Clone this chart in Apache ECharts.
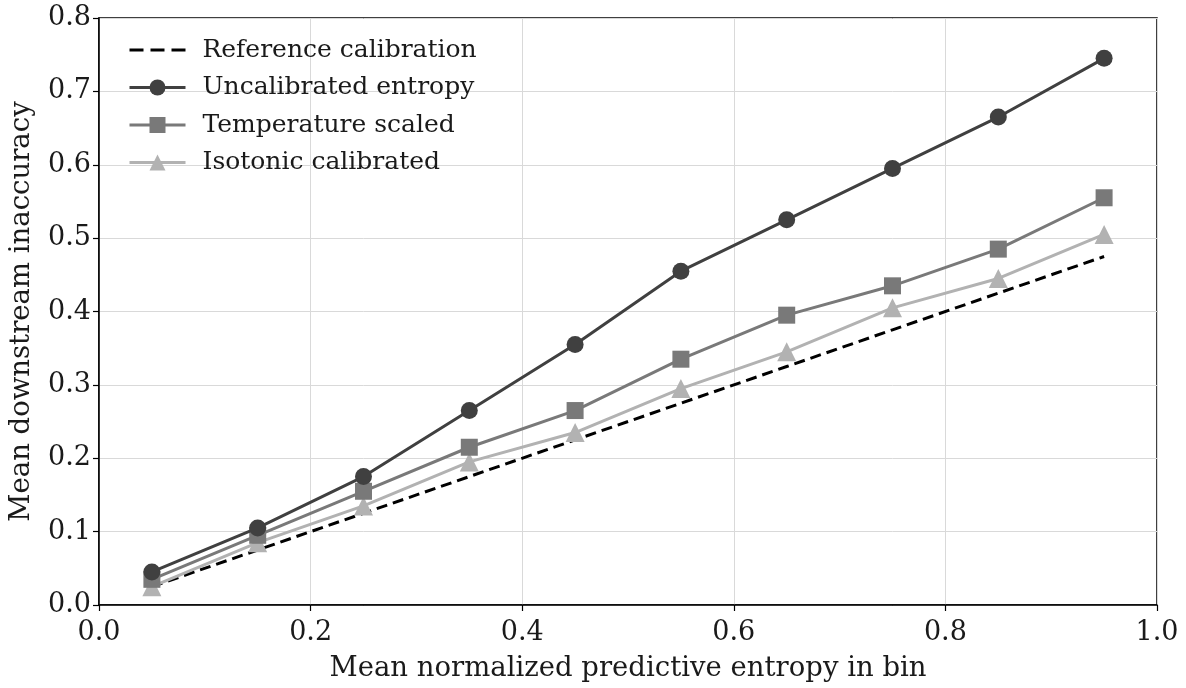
<!DOCTYPE html>
<html>
<head>
<meta charset="utf-8">
<script src="https://cdn.jsdelivr.net/npm/echarts@6/dist/echarts.min.js"></script>
<style>
html, body { margin: 0; padding: 0; background: #fff; }
#main { width: 1186px; height: 688px; }
</style>
</head>
<body>
<div id="main"></div>
<script>
var binCenters = [0.05, 0.15, 0.25, 0.35, 0.45, 0.55, 0.65, 0.75, 0.85, 0.95];
var refValues = [0.025, 0.075, 0.125, 0.175, 0.225, 0.275, 0.325, 0.375, 0.425, 0.475];
var uncalValues = [0.045, 0.105, 0.175, 0.265, 0.355, 0.455, 0.525, 0.595, 0.665, 0.745];
var tempValues = [0.035, 0.095, 0.155, 0.215, 0.265, 0.335, 0.395, 0.435, 0.485, 0.555];
var isoValues = [0.025, 0.085, 0.135, 0.195, 0.235, 0.295, 0.345, 0.405, 0.445, 0.505];
var seriesNames = ['Reference calibration', 'Uncalibrated entropy', 'Temperature scaled', 'Isotonic calibrated'];

function pairs(ys) {
    var out = [];
    for (var i = 0; i < binCenters.length; i++) {
        out.push([binCenters[i], ys[i]]);
    }
    return out;
}

var font = 'DejaVu Serif';
// dashed handle for the reference line in the legend
var dashIcon = 'path://M0,0H14V3H0Z M21,0H35V3H21Z M42,0H56V3H42Z';

var option = {
    animation: false,
    backgroundColor: '#fff',
    textStyle: { fontFamily: font },
    grid: { left: 99, right: 29, top: 18, bottom: 81, show: true, borderColor: '#000', borderWidth: 1.5 },
    legend: {
        left: 123, top: 32,
        orient: 'vertical',
        itemWidth: 56, itemHeight: 20, itemGap: 11.5,
        lineStyle: { width: 3 },
        textStyle: { fontFamily: font, fontSize: 25, lineHeight: 26, color: '#1a1a1a', padding: [0, 0, 0, 12] },
        data: [
            { name: seriesNames[0], icon: dashIcon },
            seriesNames[1], seriesNames[2], seriesNames[3]
        ]
    },
    xAxis: {
        type: 'value', min: 0, max: 1, interval: 0.2,
        name: 'Mean normalized predictive entropy in bin',
        nameLocation: 'middle', nameGap: 50,
        nameTextStyle: { fontFamily: font, fontSize: 27.5, color: '#1a1a1a' },
        axisLine: { show: true, onZero: false, lineStyle: { color: '#000', width: 1.5 } },
        axisTick: { show: true, length: 6, lineStyle: { color: '#000', width: 1.2 } },
        axisLabel: { fontFamily: font, fontSize: 27, color: '#1a1a1a', margin: 14, formatter: function (v) { return v.toFixed(1); } },
        splitLine: { show: true, lineStyle: { color: '#d9d9d9', width: 1 } }
    },
    yAxis: {
        type: 'value', min: 0, max: 0.8, interval: 0.1,
        name: 'Mean downstream inaccuracy',
        nameLocation: 'middle', nameGap: 63,
        nameTextStyle: { fontFamily: font, fontSize: 27.5, color: '#1a1a1a' },
        axisLine: { show: true, onZero: false, lineStyle: { color: '#000', width: 1.5 } },
        axisTick: { show: true, length: 6, lineStyle: { color: '#000', width: 1.2 } },
        axisLabel: { fontFamily: font, fontSize: 27, color: '#1a1a1a', margin: 8, formatter: function (v) { return v.toFixed(1); } },
        splitLine: { show: true, lineStyle: { color: '#d9d9d9', width: 1 } }
    },
    series: [
        {
            name: seriesNames[0], type: 'line', data: pairs(refValues),
            symbol: 'none', z: 2,
            lineStyle: { color: '#000', width: 3, type: [11, 6] },
            itemStyle: { color: '#000' }
        },
        {
            name: seriesNames[1], type: 'line', data: pairs(uncalValues),
            symbol: 'circle', symbolSize: 17, z: 5,
            lineStyle: { color: '#404040', width: 3 },
            itemStyle: { color: '#404040' }
        },
        {
            name: seriesNames[2], type: 'line', data: pairs(tempValues),
            symbol: 'rect', symbolSize: 17, z: 4,
            lineStyle: { color: '#797979', width: 3 },
            itemStyle: { color: '#797979' }
        },
        {
            name: seriesNames[3], type: 'line', data: pairs(isoValues),
            symbol: 'triangle', symbolSize: 19, z: 3,
            lineStyle: { color: '#b2b2b2', width: 3 },
            itemStyle: { color: '#b2b2b2' }
        }
    ]
};

echarts.init(document.getElementById('main')).setOption(option);
</script>
</body>
</html>
